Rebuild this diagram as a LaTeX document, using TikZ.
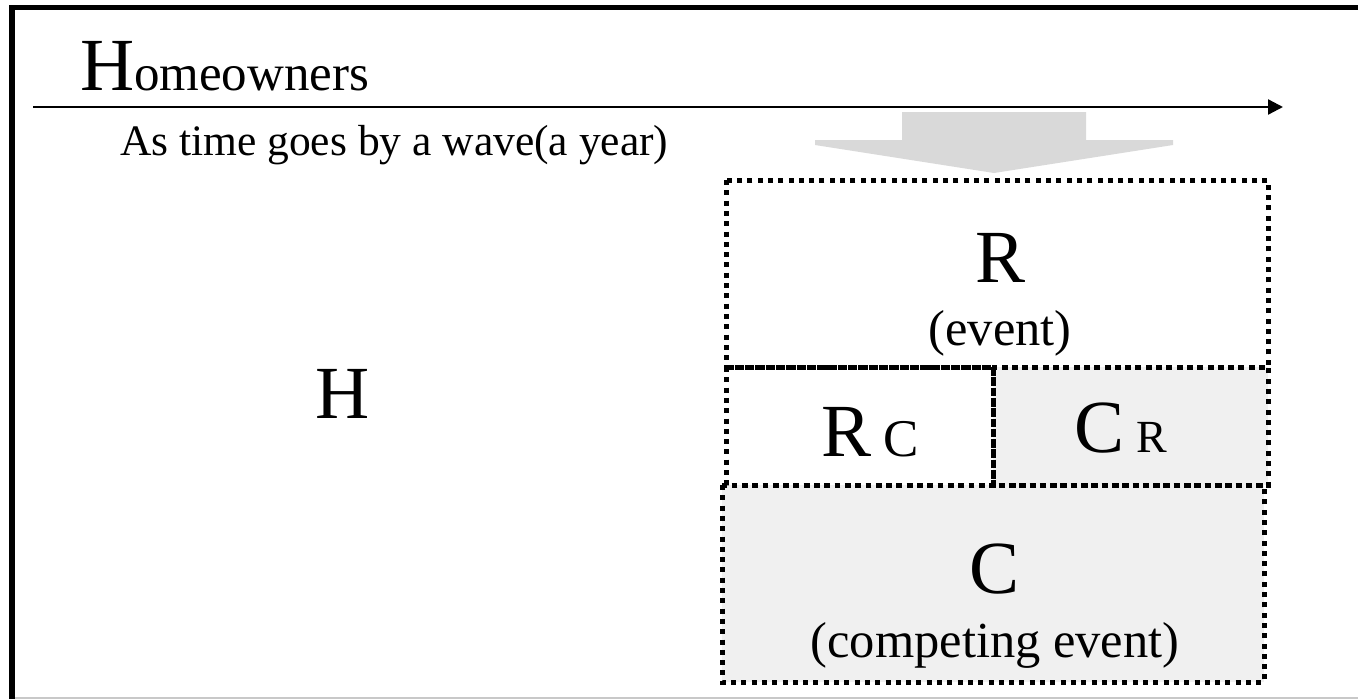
\documentclass[tikz,border=0pt]{standalone}
\usepackage{fontspec}
\setmainfont{Liberation Serif}
\usetikzlibrary{arrows.meta}
\definecolor{boxgray}{HTML}{F0F0F0}
\definecolor{arrowgray}{HTML}{D9D9D9}
\definecolor{edgegray}{HTML}{C8C8C8}
\tikzset{
  txt/.style={inner sep=0pt, outer sep=0pt, anchor=base},
  bigletter/.style={txt, font=\fontsize{75}{80}\selectfont},
  midtext/.style={txt, font=\fontsize{50.5}{56}\selectfont},
  areabox/.style={rectangle, inner sep=0pt, outer sep=0pt, anchor=north west, draw=none},
  dotline/.style={draw=black, line width=5pt, dash pattern=on 5pt off 5.3pt},
  frameline/.style={draw=black, line width=5.5pt},
  timeline/.style={draw=black, line width=2.3pt, -{Triangle[length=15pt,width=15pt]}}
}
\begin{document}
\begin{tikzpicture}[x=1pt,y=-1pt]
\useasboundingbox (0,0) rectangle (1358,699);
\fill[white] (0,0) rectangle (1358,699);

% outer frame (cropped)
\coordinate (frTL) at (11.8,7.5);
\coordinate (frTR) at (1358,7.5);
\coordinate (frBL) at (11.8,699);
\coordinate (bgL) at (14.7,698);
\coordinate (bgR) at (1358,698);
\draw[edgegray, line width=1.5pt] (bgL) -- (bgR);
\draw[frameline] (frTR) -- (frTL) -- (frBL);

% title
\node[txt, anchor=base west] (title) at (80,90)
  {{\fontsize{75}{80}\selectfont H}{\fontsize{51}{56}\selectfont omeowners}};

% time line
\coordinate (tlStart) at (33,107);
\coordinate (tlEnd) at (1283,107);
\draw[timeline] (tlStart) -- (tlEnd);

\node[txt, anchor=base west, font=\fontsize{43.5}{48}\selectfont] (timelabel) at (120,155)
  {As time goes by a wave(a year)};

% grey block arrow
\fill[arrowgray] (902,112) -- (1086,112) -- (1086,140) -- (1173,140) -- (1173,145)
  -- (994,173) -- (815,145) -- (815,140) -- (902,140) -- cycle;

% H
\node[bigletter] (H) at (343,418) {H};

% boxes (fills)
\node[areabox, minimum width=542pt, minimum height=187pt] (boxR) at (726,180) {};
\node[areabox, minimum width=267pt, minimum height=118pt] (boxRC) at (726,367) {};
\node[areabox, fill=boxgray, minimum width=275pt, minimum height=118pt] (boxCR) at (993,367) {};
\node[areabox, fill=boxgray, minimum width=542pt, minimum height=197pt] (boxC) at (722,485) {};

% boxes (dotted outlines)
\draw[dotline] (boxR.north west) rectangle (boxR.south east);
\draw[dotline] (boxRC.north west) rectangle (boxRC.south east);
\draw[dotline] (boxCR.north west) rectangle (boxCR.south east);
\draw[dotline] (boxC.north west) rectangle (boxC.south east);

% texts in boxes
\node[bigletter] (Rtop) at (1001,282) {R};
\node[midtext] (event) at (1000,345) {(event)};

\node[bigletter] (RcR) at (847,456) {R};
\node[txt, font=\fontsize{53}{56}\selectfont] (RcC) at (901,456) {C};

\node[bigletter] (CrC) at (1100,452) {C};
\node[txt, font=\fontsize{46}{50}\selectfont] (CrR) at (1152,452) {R};

\node[bigletter] (Cbot) at (995,593) {C};
\node[midtext] (compev) at (995,657) {(competing event)};
\end{tikzpicture}
\end{document}
